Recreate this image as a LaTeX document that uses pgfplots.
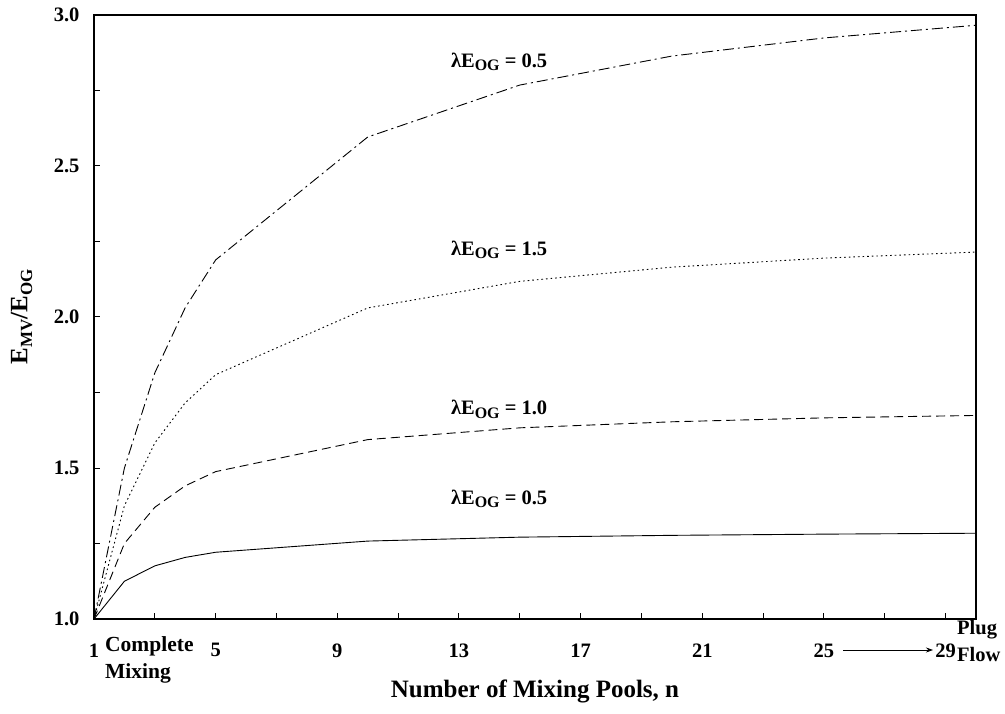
\documentclass[border=0pt]{standalone}
\usepackage{pgfplots}
\pgfplotsset{compat=1.18}
\usepackage{fontspec}
\setmainfont{Liberation Serif}
\usetikzlibrary{arrows.meta}
\newcommand{\sub}[2][14]{\raisebox{-0.4ex}{\fontsize{#1}{#1}\selectfont #2}}
\begin{document}
\begin{tikzpicture}[font=\fontsize{21}{25}\selectfont\bfseries]
\useasboundingbox (0,0) rectangle (1005pt,713pt);
\begin{axis}[
  at={(94pt,94pt)}, anchor=south west,
  scale only axis, width=882pt, height=604pt,
  xmin=1, xmax=30, ymin=1, ymax=3,
  axis line style={line width=2.4pt},
  xtick={1,5,...,29}, minor xtick={3,7,...,27},
  ytick={1,1.5,...,3}, minor ytick={1.25,1.75,2.25,2.75},
  tick pos=left, tick align=inside,
  major tick length=6pt, minor tick length=6pt,
  every tick/.style={line width=1pt, black},
  every minor tick/.style={line width=1pt, black},
  /pgf/number format/assume math mode=true,
  yticklabel style={/pgf/number format/fixed, /pgf/number format/fixed zerofill, /pgf/number format/precision=1, xshift=-11pt},
  xticklabel style={yshift=-21pt},
  ticklabel style={font=\fontsize{20.5}{24}\selectfont\bfseries},
  xlabel={Number of Mixing Pools, n},
  ylabel={E\sub[17]{MV}/E\sub[17]{OG}},
  label style={font=\fontsize{25}{28}\selectfont\bfseries},
  xlabel style={at={(axis description cs:0.5,-0.12)}, anchor=center},
  ylabel style={at={(axis description cs:-0.082,0.5)}, anchor=center},
  clip=false,
]
\addplot[black, line width=0.9pt, dash pattern=on 11pt off 4pt on 2pt off 4pt] coordinates {
 (1,1) (2,1.5) (3,1.815) (4,2.031) (5,2.189) (10,2.596) (15,2.768) (20,2.864) (25,2.924) (30,2.966)};
\addplot[black, line width=0.9pt, dash pattern=on 1.6pt off 3pt] coordinates {
 (1,1) (2,1.375) (3,1.583) (4,1.716) (5,1.809) (10,2.030) (15,2.118) (20,2.165) (25,2.195) (30,2.215)};
\addplot[black, line width=0.9pt, dash pattern=on 9pt off 5pt] coordinates {
 (1,1) (2,1.25) (3,1.370) (4,1.441) (5,1.488) (10,1.594) (15,1.633) (20,1.653) (25,1.666) (30,1.674)};
\addplot[black, line width=0.9pt] coordinates {
 (1,1) (2,1.125) (3,1.176) (4,1.204) (5,1.221) (10,1.258) (15,1.271) (20,1.277) (25,1.281) (30,1.284)};
\begin{scope}[every node/.style={font=\fontsize{20.5}{24}\selectfont\bfseries}]
\node at (axis cs:14.32,2.845) {λE\sub[16]{OG} = 0.5};
\node at (axis cs:14.32,2.222) {λE\sub[16]{OG} = 1.5};
\node at (axis cs:14.32,1.693) {λE\sub[16]{OG} = 1.0};
\node at (axis cs:14.32,1.398) {λE\sub[16]{OG} = 0.5};
\end{scope}
\end{axis}
\node[anchor=west, align=left, inner sep=0pt, font=\fontsize{21.5}{27}\selectfont\bfseries] at (105pt,53pt) {Complete\\Mixing};
\node[anchor=west, align=left, inner sep=0pt, font=\fontsize{20.5}{27}\selectfont\bfseries] at (957pt,72pt) {Plug\\Flow};
\draw[line width=0.8pt, -{Stealth[length=7pt,width=5pt]}] (843pt,63pt) -- (933pt,63pt);
\end{tikzpicture}
\end{document}
